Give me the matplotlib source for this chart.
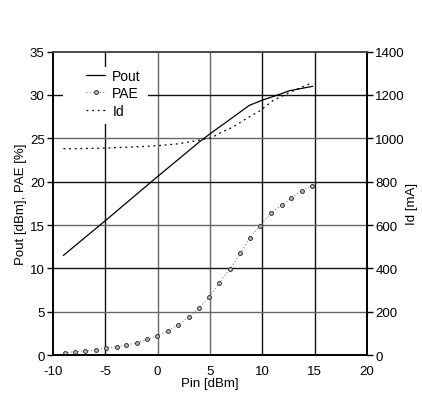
import matplotlib
matplotlib.use("Agg")
import matplotlib.pyplot as plt

# Pout / Id / PAE vs Pin
pin_pout = [-9, -5, 0, 4, 5.2, 6.3, 8.75, 10.1, 11.7, 12.6, 14.8]
pout = [11.5, 15.5, 20.6, 24.6, 25.7, 26.65, 28.8, 29.45, 30.1, 30.5, 31.0]

pin_id = [-9, -7, -5, -3, -1, 0, 2, 4, 5.2, 6, 7.2, 8.5, 9.8, 11.0, 12.6, 14.5]
id_ma = [952, 953, 955, 959, 963, 966, 975, 992, 1004, 1026, 1052, 1092, 1128, 1174, 1212, 1251]

pin_pae = [-8.9, -7.9, -6.9, -5.9, -4.9, -3.9, -3.0, -2.0, -1.0, -0.1, 0.95, 1.9,
           2.95, 3.95, 4.95, 5.9, 6.9, 7.9, 8.8, 9.8, 10.85, 11.85, 12.75, 13.75, 14.75]
pae = [0.27, 0.38, 0.46, 0.58, 0.77, 0.96, 1.15, 1.42, 1.81, 2.23, 2.77, 3.46,
       4.35, 5.42, 6.73, 8.35, 9.92, 11.73, 13.55, 14.92, 16.4, 17.3, 18.1, 18.96, 19.54]

x_ticks = [-10, -5, 0, 5, 10, 15, 20]
y_ticks = [0, 5, 10, 15, 20, 25, 30, 35]
id_ticks = [0, 200, 400, 600, 800, 1000, 1200, 1400]

plt.rcParams["font.family"] = ["Liberation Sans", "DejaVu Sans"]
plt.rcParams["font.size"] = 9.5
plt.rcParams["axes.unicode_minus"] = False

fig = plt.figure(figsize=(4.22, 4.02), dpi=100, facecolor="white")
ax = fig.add_axes([0.1256, 0.1144, 0.7441, 0.7546])
ax2 = ax.twinx()

ax.set_xlim(-10, 20)
ax.set_ylim(0, 35)
ax2.set_ylim(0, 1400)
ax.set_xticks(x_ticks)
ax.set_yticks(y_ticks)
ax2.set_yticks(id_ticks)

# grid: mix of black and gray lines like the scan
v_cols = {-5: "#111111", 0: "#666666", 5: "#666666", 10: "#111111", 15: "#111111"}
h_cols = {5: "#666666", 10: "#111111", 15: "#666666", 20: "#111111", 25: "#666666", 30: "#111111"}
for xv, c in v_cols.items():
    ax.axvline(xv, color=c, linewidth=1.0, zorder=0.5)
for yv, c in h_cols.items():
    ax.axhline(yv, color=c, linewidth=1.0, zorder=0.5)

# white patch behind the legend (hides grid there)
ax.add_patch(plt.Rectangle((0.032, 0.762), 0.27, 0.188, transform=ax.transAxes,
                           facecolor="white", edgecolor="none", zorder=1))

ax.plot(pin_pout, pout, color="black", linewidth=0.9, label="Pout", zorder=3)
ax.plot(pin_pae, pae, color="#888888", linestyle=(0, (1, 2)), linewidth=0.8,
        marker="o", markersize=2.8, markerfacecolor="#bbbbbb",
        markeredgecolor="#333333", markeredgewidth=0.7, label="PAE", zorder=3)
id_line, = ax2.plot(pin_id, id_ma, color="black", linestyle=(0, (1.5, 3)),
                    linewidth=0.9, label="Id", zorder=3)

for a in (ax, ax2):
    for s in a.spines.values():
        s.set_linewidth(1.2)
        s.set_color("black")
ax2.spines["top"].set_color("#555555")

ax.tick_params(axis="y", direction="out", length=4, width=1, pad=2)
ax.tick_params(axis="x", length=0, pad=7)
ax2.tick_params(axis="y", direction="out", length=4, width=1, pad=2)

ax.set_xlabel("Pin [dBm]", labelpad=0)
ax.set_ylabel("Pout [dBm], PAE [%]", labelpad=2)
ax2.set_ylabel("Id [mA]", labelpad=1)

h1, l1 = ax.get_legend_handles_labels()
leg = ax.legend(h1 + [id_line], l1 + ["Id"], loc="upper left",
                bbox_to_anchor=(0.105, 0.944), frameon=False, fontsize=10,
                handlelength=1.4, handletextpad=0.5, labelspacing=0.25,
                borderpad=0, borderaxespad=0)
leg.set_zorder(5)

fig.savefig("out.png", dpi=100, facecolor="white")
